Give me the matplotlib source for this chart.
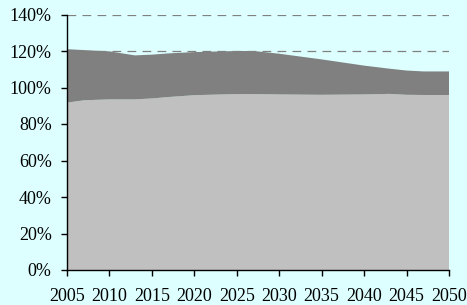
import matplotlib.pyplot as plt
from matplotlib.ticker import FuncFormatter

# values (percent)
years = [2005, 2007, 2010, 2013, 2015, 2017, 2020, 2025, 2027, 2030, 2035, 2040, 2043, 2045, 2047, 2050]
lower = [91.7, 93.0, 93.5, 93.5, 94.0, 94.8, 95.8, 96.4, 96.4, 96.2, 96.0, 96.2, 96.5, 96.0, 95.9, 95.9]
total = [121.0, 120.5, 119.8, 117.6, 118.0, 118.7, 119.4, 120.0, 120.0, 118.5, 115.4, 112.0, 110.3, 109.3, 108.8, 108.8]
upper = [t - b for t, b in zip(total, lower)]
xticks = list(range(2005, 2051, 5))
yticks = list(range(0, 141, 20))

bg = '#ddffff'
plt.rcParams['font.family'] = ['Liberation Serif', 'DejaVu Serif']

fig = plt.figure(figsize=(4.67, 3.05), dpi=100, facecolor=bg)
ax = fig.add_axes([67 / 467, 1 - 270 / 305, 382 / 467, 255.5 / 305])
ax.set_facecolor(bg)

ax.stackplot(years, lower, upper, colors=['#c0c0c0', '#808080'], linewidth=0, zorder=2)

ax.set_xlim(2005, 2050)
ax.set_ylim(0, 140)
ax.set_xticks(xticks)
ax.set_yticks(yticks)
ax.yaxis.set_major_formatter(FuncFormatter(lambda v, p: f'{v:.0f}%'))
ax.grid(axis='y', color='#808080', linestyle=(0, (7, 5)), linewidth=0.9, zorder=1)
ax.set_axisbelow(True)

for s in ['top', 'right']:
    ax.spines[s].set_visible(False)
for s in ['left', 'bottom']:
    ax.spines[s].set_color('black')
    ax.spines[s].set_linewidth(1.0)
    ax.spines[s].set_zorder(3)

ax.tick_params(axis='y', direction='out', length=4, width=1, pad=7, labelsize=13, colors='black')
ax.tick_params(axis='x', direction='out', length=4, width=1, pad=9, labelsize=13, colors='black')

fig.savefig('out.png', dpi=100, facecolor=bg)
